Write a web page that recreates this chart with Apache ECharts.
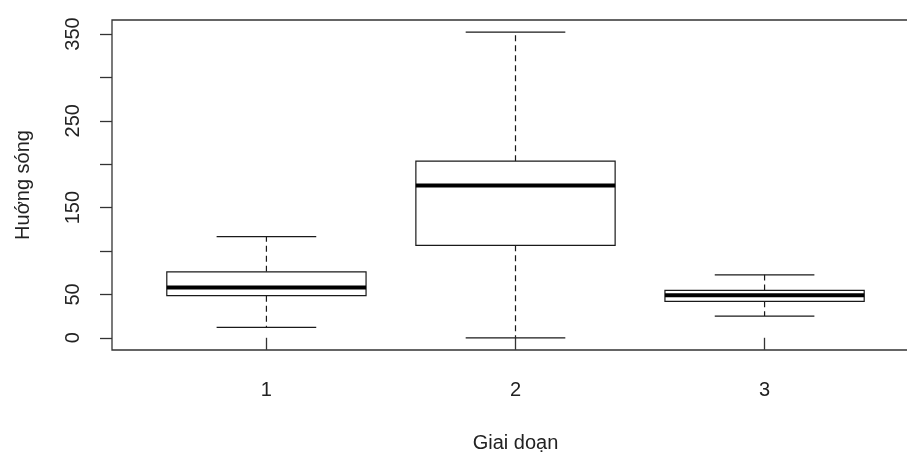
<!DOCTYPE html>
<html>
<head>
<meta charset="utf-8">
<script src="https://cdn.jsdelivr.net/npm/echarts@6/dist/echarts.min.js"></script>
<style>
  html, body { margin: 0; padding: 0; background: #fff; }
  #chart { width: 907px; height: 455px; }
</style>
</head>
<body>
<div id="chart"></div>
<script>
// Five-number summaries of wave direction per stage
var categories = ['1', '2', '3'];
var lowerWhisker = [12, 0, 25];
var q1 = [48.5, 106.5, 42];
var median = [58, 175.5, 49];
var q3 = [76, 203.5, 54.5];
var upperWhisker = [116.5, 352, 72.5];

var yTicks = [0, 50, 100, 150, 200, 250, 300, 350];
var yLabels = [0, 50, 150, 250, 350];

// R-style padding: 4% on each side of the data range
var yMinData = 0, yMaxData = 352;
var yPad = (yMaxData - yMinData) * 0.04;
var xPad = 3 * 0.04;

var boxData = categories.map(function (c, i) {
  return [i + 1, lowerWhisker[i], q1[i], median[i], q3[i], upperWhisker[i]];
});

var LINE = '#1a1a1a';

function renderBox(params, api) {
  var x = api.value(0);
  var lo = api.coord([x, api.value(1)]);
  var b1 = api.coord([x, api.value(2)]);
  var md = api.coord([x, api.value(3)]);
  var b3 = api.coord([x, api.value(4)]);
  var hi = api.coord([x, api.value(5)]);
  var halfBox = (api.coord([x + 0.4, 0])[0] - api.coord([x, 0])[0]);
  var halfCap = halfBox / 2;
  var cx = lo[0];
  var dash = { stroke: LINE, lineWidth: 1.2, lineDash: [6, 4] };
  var solid = { stroke: LINE, lineWidth: 1.2 };
  return {
    type: 'group',
    children: [
      { type: 'line', shape: { x1: cx, y1: b3[1], x2: cx, y2: hi[1] }, style: dash },
      { type: 'line', shape: { x1: cx, y1: b1[1], x2: cx, y2: lo[1] }, style: dash },
      { type: 'line', shape: { x1: cx - halfCap, y1: hi[1], x2: cx + halfCap, y2: hi[1] }, style: solid },
      { type: 'line', shape: { x1: cx - halfCap, y1: lo[1], x2: cx + halfCap, y2: lo[1] }, style: solid },
      { type: 'rect', shape: { x: cx - halfBox, y: b3[1], width: 2 * halfBox, height: b1[1] - b3[1] },
        style: { fill: '#fff', stroke: LINE, lineWidth: 1.2 } },
      { type: 'line', shape: { x1: cx - halfBox, y1: md[1], x2: cx + halfBox, y2: md[1] },
        style: { stroke: '#000', lineWidth: 4 } }
    ]
  };
}

var FONT = 'Liberation Sans, Arial, sans-serif';
var FS = 20;

var chart = echarts.init(document.getElementById('chart'), null, { renderer: 'canvas' });
chart.setOption({
  animation: false,
  backgroundColor: '#fff',
  grid: {
    left: 112, top: 20, width: 807, bottom: 105,
    outerBoundsMode: 'none',
    containLabel: false,
    show: true, borderColor: '#333', borderWidth: 1.3, backgroundColor: 'transparent'
  },
  xAxis: {
    type: 'value',
    min: 1 - 0.5 - xPad,
    max: categories.length + 0.5 + xPad,
    name: 'Giai doạn',
    nameLocation: 'middle',
    nameGap: 83,
    nameTextStyle: { fontFamily: FONT, fontSize: FS, color: '#222' },
    axisLine: { show: false },
    splitLine: { show: false },
    axisTick: {
      show: true, length: 12, inside: false,
      customValues: categories.map(function (c, i) { return i + 1; }),
      lineStyle: { color: '#333', width: 1.3 }
    },
    axisLabel: {
      customValues: categories.map(function (c, i) { return i + 1; }),
      formatter: function (v) { return categories[Math.round(v) - 1]; },
      margin: 30,
      fontFamily: FONT, fontSize: FS, color: '#222'
    }
  },
  yAxis: {
    type: 'value',
    min: yMinData - yPad,
    max: yMaxData + yPad,
    name: 'Huớng sóng',
    nameLocation: 'middle',
    nameRotate: 90,
    nameGap: 79,
    nameTextStyle: { fontFamily: FONT, fontSize: FS, color: '#222' },
    axisLine: { show: false },
    splitLine: { show: false },
    axisTick: {
      show: true, length: 12,
      customValues: yTicks,
      lineStyle: { color: '#333', width: 1.3 }
    },
    axisLabel: {
      customValues: yLabels,
      rotate: 90,
      margin: 29,
      fontFamily: FONT, fontSize: FS, color: '#222'
    }
  },
  series: [{
    type: 'custom',
    renderItem: renderBox,
    encode: { x: 0, y: [1, 2, 3, 4, 5] },
    data: boxData,
    clip: false
  }]
});
</script>
</body>
</html>
